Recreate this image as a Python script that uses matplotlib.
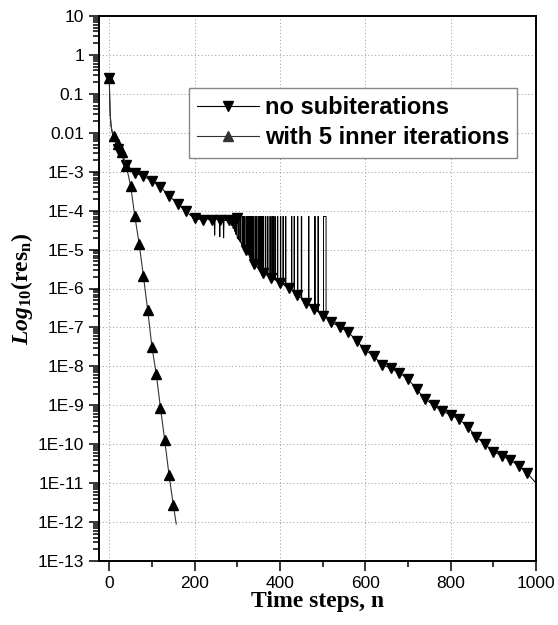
import numpy as np
import matplotlib
matplotlib.use("Agg")
import matplotlib.pyplot as plt
from matplotlib.lines import Line2D
from matplotlib.ticker import FixedLocator, FixedFormatter, MultipleLocator, LogLocator, NullFormatter

plt.rcParams['font.family'] = ['Liberation Sans', 'DejaVu Sans']
plt.rcParams['mathtext.fontset'] = 'custom'
plt.rcParams['mathtext.rm'] = 'Liberation Serif:bold'
plt.rcParams['mathtext.it'] = 'Liberation Serif:italic:bold'
plt.rcParams['mathtext.bf'] = 'Liberation Serif:bold'

# no subiterations: baseline of the residual (log10)
line1_n = [0, 1, 2, 4, 8, 14, 20, 30, 40, 50, 60, 80, 100, 120, 140, 160, 180, 190,
           200, 220, 240, 246, 247, 248, 258, 259, 260, 267, 268, 269, 280, 290,
           300, 310, 320, 330, 340, 350, 360, 380, 400, 420, 440, 460, 480, 500,
           520, 540, 560, 580, 600, 620, 640, 660, 680, 700, 720, 740, 760, 780,
           800, 820, 840, 860, 880, 900, 920, 940, 960, 980, 1000]
line1_log = [-0.6, -1.1, -1.5, -1.8, -2.05, -2.25, -2.42, -2.62, -2.82, -2.96, -3.03,
             -3.12, -3.23, -3.39, -3.62, -3.82, -4.02, -4.12,
             -4.19, -4.23, -4.23, -4.22, -4.63, -4.22, -4.23, -4.67, -4.23, -4.24,
             -4.7, -4.24, -4.28, -4.45,
             -4.7, -4.86, -5.0, -5.22, -5.38, -5.5, -5.6, -5.73, -5.85, -5.98,
             -6.16, -6.36, -6.53, -6.71,
             -6.86, -6.99, -7.12, -7.35, -7.58, -7.74, -7.96, -8.05, -8.17, -8.32,
             -8.59, -8.83, -9.0, -9.15,
             -9.25, -9.36, -9.55, -9.81, -10.0, -10.19, -10.3, -10.41, -10.56,
             -10.75, -11.0]

# jumps of the residual up to the stalled level
plateau_log = -4.15
spike_start = [203, 209, 214, 224, 229, 234, 251, 263, 271, 274, 277, 281, 284, 287,
               291, 294, 297, 302, 306, 311, 314, 317, 321, 323, 326, 329, 332, 335,
               338, 342, 345, 349, 352, 355, 358, 361, 366, 371, 376, 381, 384, 388,
               394, 401, 407, 413, 427, 433, 441, 450, 467, 481, 489, 502]
spike_end = [206, 212, 217, 227, 232, 237, 254, 265, 273, 276, 279, 283, 286, 289,
             293, 296, 299, 303, 307, 312, 315, 318, 322, 324, 327, 331, 333, 336,
             339, 343, 346, 350, 353, 356, 359, 362, 367, 372, 378, 382, 385, 389,
             395, 402, 408, 414, 428, 434, 442, 451, 468, 483, 490, 508]
spike_floor = [-4.22, -4.23, -4.23, -4.23, -4.23, -4.23, -4.23, -4.23, -4.25, -4.26,
               -4.27, -4.29, -4.33, -4.38, -4.46, -4.53, -4.61, -4.73, -4.79, -4.88,
               -4.92, -4.96, -5.02, -5.07, -5.13, -5.2, -5.25, -5.3, -5.35, -5.4,
               -5.44, -5.49, -5.52, -5.55, -5.58, -5.6, -5.64, -5.67, -5.7, -5.74,
               -5.75, -5.78, -5.81, -5.86, -5.9, -5.94, -6.03, -6.09, -6.16, -6.25,
               -6.41, -6.53, -6.6, -6.71]

# no subiterations: marker values
mark1_n = [0, 20, 40, 60, 80, 100, 120, 140, 160, 180, 200, 220, 240, 260, 280, 300,
           320, 340, 360, 380, 400, 420, 440, 460, 480, 500, 520, 540, 560, 580, 600,
           620, 640, 660, 680, 700, 720, 740, 760, 780, 800, 820, 840, 860, 880, 900,
           920, 940, 960, 980]
mark1_log = [-0.6, -2.42, -2.82, -3.03, -3.12, -3.23, -3.39, -3.62, -3.82, -4.02,
             -4.19, -4.23, -4.23, -4.23, -4.25, -4.19, -5.0, -5.38, -5.6, -5.73,
             -5.85, -5.98, -6.16, -6.36, -6.53, -6.71, -6.86, -6.99, -7.12, -7.35,
             -7.58, -7.74, -7.96, -8.05, -8.17, -8.32, -8.59, -8.83, -9.0, -9.15,
             -9.25, -9.36, -9.55, -9.81, -10.0, -10.19, -10.3, -10.41, -10.56, -10.75]

# with 5 inner iterations
line2_n = [0, 1, 2, 4, 6, 10, 20, 30, 40, 50, 60, 70, 80, 90, 100, 110, 120, 130,
           140, 150, 157]
line2_log = [-0.6, -1.1, -1.5, -1.8, -1.95, -2.09, -2.28, -2.5, -2.86, -3.36, -4.15,
             -4.85, -5.68, -6.55, -7.5, -8.19, -9.07, -9.9, -10.79, -11.56, -12.05]

ytick_labels = ['10', '1', '0.1', '0.01', '1E-3', '1E-4', '1E-5', '1E-6', '1E-7',
                '1E-8', '1E-9', '1E-10', '1E-11', '1E-12', '1E-13']
ytick_exp = [1, 0, -1, -2, -3, -4, -5, -6, -7, -8, -9, -10, -11, -12, -13]

# build the no-subiteration polyline: baseline plus the jumps
pts = [(n, v, 2) for n, v in zip(line1_n, line1_log)]
for a, b, f in zip(spike_start, spike_end, spike_floor):
    pts += [(a, f, 3), (a, plateau_log, 4), (b, plateau_log, 0), (b, f, 1)]
pts.sort(key=lambda p: (p[0], p[2]))
x1 = np.array([p[0] for p in pts])
y1 = 10.0 ** np.array([p[1] for p in pts])

x2 = np.array(line2_n)
y2 = 10.0 ** np.array(line2_log)
m2 = x2 % 10 == 0

fig = plt.figure(figsize=(5.58, 6.25), dpi=100)
ax = fig.add_axes([0.1767, 0.1024, 0.7839, 0.872])

ax.plot(x1, y1, color='black', lw=0.7)
ax.plot(mark1_n, 10.0 ** np.array(mark1_log), ls='none', marker='v', ms=7,
        color='black')
ax.plot(x2, y2, color='#333333', lw=0.8)
ax.plot(x2[m2], y2[m2], ls='none', marker='^', ms=7, color='black')

ax.set_yscale('log')
ax.set_xlim(-25, 1000)
ax.set_ylim(1e-13, 10)

ax.yaxis.set_major_locator(FixedLocator([10.0 ** e for e in ytick_exp]))
ax.yaxis.set_major_formatter(FixedFormatter(ytick_labels))
ax.yaxis.set_minor_locator(LogLocator(base=10, subs=np.arange(2, 10), numticks=40))
ax.yaxis.set_minor_formatter(NullFormatter())
ax.xaxis.set_major_locator(MultipleLocator(200))
ax.xaxis.set_minor_locator(MultipleLocator(100))

ax.tick_params(which='both', direction='out', top=False, right=False,
               labelsize=12.5, width=1.1)
ax.tick_params(which='major', length=7)
ax.tick_params(which='minor', length=4)
for s in ax.spines.values():
    s.set_linewidth(1.4)

ax.grid(True, which='major', color='#999999', lw=0.7, ls=(0, (1, 2.5)))
ax.set_axisbelow(True)

ax.set_xlabel('Time steps, n', fontfamily='Liberation Serif', fontweight='bold',
              fontsize=17, labelpad=0)
ax.set_ylabel(r'$\mathit{Log}_{10}\mathrm{(res}_{\mathrm{n}}\mathrm{)}$',
              fontsize=17, labelpad=2)

handles = [Line2D([], [], color='black', lw=0.8, marker='v', ms=7),
           Line2D([], [], color='#333333', lw=0.8, marker='^', ms=7)]
leg = ax.legend(handles, ['no subiterations', 'with 5 inner iterations'],
                loc='upper right', bbox_to_anchor=(0.957, 0.868),
                prop={'weight': 'bold', 'size': 17}, handlelength=2.6,
                fancybox=False, framealpha=1, edgecolor='#888888',
                borderpad=0.35, labelspacing=0.3, handletextpad=0.25,
                borderaxespad=0)
leg.get_frame().set_linewidth(1.0)

fig.savefig('out.png', dpi=100)
